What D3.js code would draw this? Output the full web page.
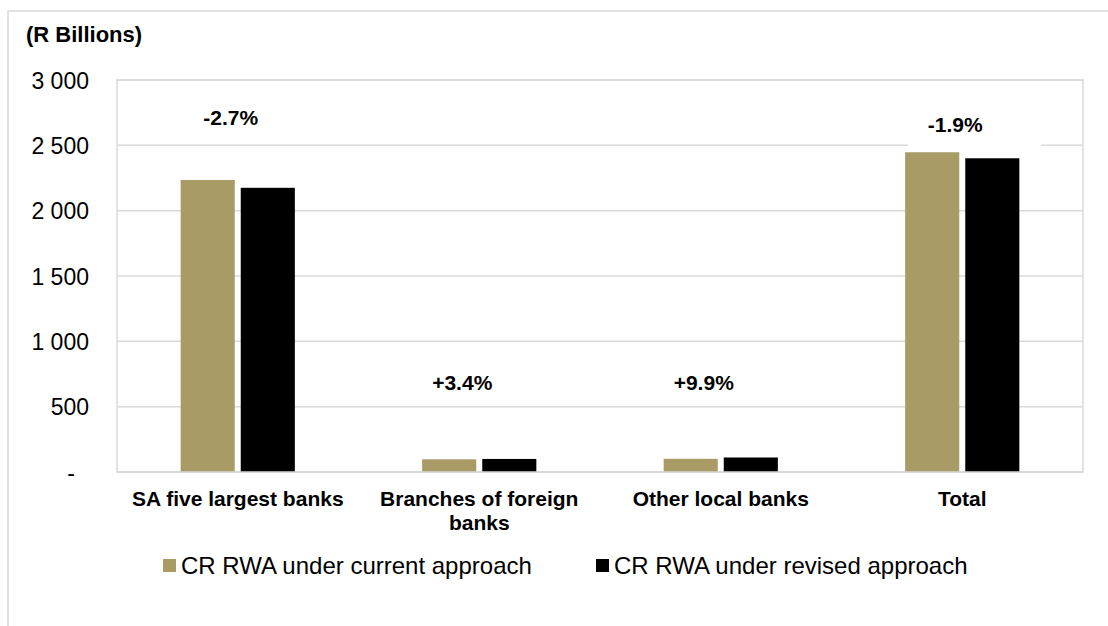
<!DOCTYPE html>
<html>
<head>
<meta charset="utf-8">
<script src="https://cdn.jsdelivr.net/npm/d3@7"></script>
<style>
  body { margin: 0; background: #fff; }
  text { font-family: "Liberation Sans", Arial, sans-serif; fill: #000; }
</style>
</head>
<body>
<svg id="chart" width="1108" height="626"></svg>
<script>
// chart values
var categories = ["SA five largest banks", "Branches of foreign banks", "Other local banks", "Total"];
var seriesNames = ["CR RWA under current approach", "CR RWA under revised approach"];
var currentApproach = [2235, 97, 101, 2447];
var revisedApproach = [2175, 100, 111, 2401];
var changeLabels = ["-2.7%", "+3.4%", "+9.9%", "-1.9%"];
var changeLabelLevel = [2656, 628, 628, 2604];   // where the % label sits, in R billions
var yTicks = [0, 500, 1000, 1500, 2000, 2500, 3000];
var colors = ["#a89b65", "#000000"];

var svg = d3.select("#chart");
var W = 1108, H = 626;
var plot = { left: 117, right: 1083, top: 80, bottom: 472 };

// outer chart frame (only left and top show in the picture)
svg.append("path")
    .attr("d", "M8," + H + " L8,11 L" + W + ",11")
    .attr("fill", "none")
    .attr("stroke", "#d9d9d9")
    .attr("stroke-width", 1.5);

var y = d3.scaleLinear().domain([0, 3000]).range([plot.bottom, plot.top]);
var x0 = d3.scaleBand().domain(categories).range([plot.left, plot.right]).padding(0);
var barW = x0.bandwidth() * 0.224;
var barGap = 6;
var x1 = d3.scaleOrdinal().domain([0, 1]).range([-barGap / 2 - barW, barGap / 2]);

// gridlines
svg.append("g")
    .selectAll("line")
    .data(yTicks)
    .enter().append("line")
    .attr("x1", plot.left).attr("x2", plot.right)
    .attr("y1", function (d) { return y(d); })
    .attr("y2", function (d) { return y(d); })
    .attr("stroke", "#d9d9d9")
    .attr("stroke-width", 1.5);

// plot area sides
svg.append("rect")
    .attr("x", plot.left).attr("y", plot.top)
    .attr("width", plot.right - plot.left)
    .attr("height", plot.bottom - plot.top)
    .attr("fill", "none")
    .attr("stroke", "#d9d9d9")
    .attr("stroke-width", 1.5);

// y axis labels
var yAxis = d3.axisLeft(y)
    .tickValues(yTicks)
    .tickSize(0)
    .tickPadding(28)
    .tickFormat(function (d) {
        return d === 0 ? "-" : d3.format(",")(d).replace(",", " ");
    });
var ya = svg.append("g").attr("transform", "translate(" + plot.left + ",0)").call(yAxis);
ya.select(".domain").remove();
ya.selectAll("text")
    .style("font-size", "23px")
    .style("font-family", "Liberation Sans, Arial, sans-serif")
    .attr("dy", "0.36em")
    .attr("dx", function (d) { return d === 0 ? -14 : 0; });

// title
svg.append("text")
    .attr("x", 26).attr("y", 42)
    .style("font-size", "22px")
    .style("font-weight", "bold")
    .text("(R Billions)");

// % change labels with white backing boxes
var labG = svg.append("g");
categories.forEach(function (c, i) {
    var cx = x0(c) + x0.bandwidth() / 2 + (i === 1 || i === 2 ? -17 : -7);
    var by = y(changeLabelLevel[i]);
    labG.append("rect")
        .attr("x", cx - 47).attr("y", by - 27)
        .attr("width", 133).attr("height", 42)
        .attr("fill", "#fff");
    labG.append("text")
        .attr("x", cx).attr("y", by)
        .attr("text-anchor", "middle")
        .style("font-size", "21px")
        .style("font-weight", "bold")
        .text(changeLabels[i]);
});

// bars
var series = [currentApproach, revisedApproach];
var groups = svg.append("g").selectAll("g")
    .data(categories)
    .enter().append("g")
    .attr("transform", function (d) { return "translate(" + (x0(d) + x0.bandwidth() / 2) + ",0)"; });

groups.selectAll("rect")
    .data(function (d, i) { return series.map(function (s, k) { return { k: k, v: s[i] }; }); })
    .enter().append("rect")
    .attr("x", function (d) { return x1(d.k); })
    .attr("y", function (d) { return y(d.v); })
    .attr("width", barW)
    .attr("height", function (d) { return y(0) - y(d.v); })
    .attr("fill", function (d) { return colors[d.k]; });

// redraw baseline over bars
svg.append("line")
    .attr("x1", plot.left).attr("x2", plot.right)
    .attr("y1", y(0)).attr("y2", y(0))
    .attr("stroke", "#d9d9d9").attr("stroke-width", 1.5);

// category labels (wrapped)
var catLines = {
    "SA five largest banks": ["SA five largest banks"],
    "Branches of foreign banks": ["Branches of foreign", "banks"],
    "Other local banks": ["Other local banks"],
    "Total": ["Total"]
};
categories.forEach(function (c) {
    var t = svg.append("text")
        .attr("x", x0(c) + x0.bandwidth() / 2)
        .attr("y", 506)
        .attr("text-anchor", "middle")
        .style("font-size", "21px")
        .style("font-weight", "bold");
    catLines[c].forEach(function (line, j) {
        t.append("tspan")
            .attr("x", x0(c) + x0.bandwidth() / 2)
            .attr("dy", j === 0 ? 0 : 24)
            .text(line);
    });
});

// legend
var legendX = [163, 596];
var leg = svg.append("g").selectAll("g")
    .data(seriesNames)
    .enter().append("g")
    .attr("transform", function (d, i) { return "translate(" + legendX[i] + ",574)"; });
leg.append("rect")
    .attr("x", 0).attr("y", -15)
    .attr("width", 13).attr("height", 13)
    .attr("fill", function (d, i) { return colors[i]; });
leg.append("text")
    .attr("x", 18).attr("y", 0)
    .style("font-size", "24px")
    .text(function (d) { return d; });
</script>
</body>
</html>
